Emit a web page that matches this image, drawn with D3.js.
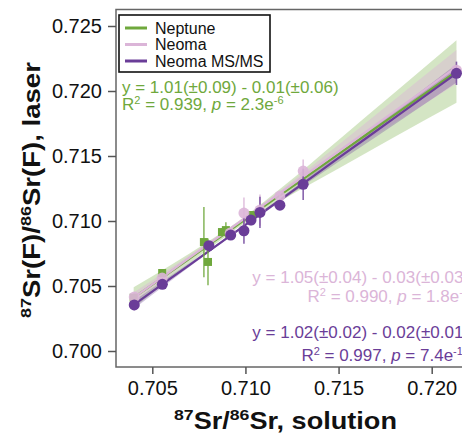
<!DOCTYPE html>
<html>
<head>
<meta charset="utf-8">
<script src="https://cdnjs.cloudflare.com/ajax/libs/d3/7.8.5/d3.min.js"></script>
<style>
  body { margin: 0; background: #fff; }
  text { font-family: "Liberation Sans", Arial, Helvetica, sans-serif; fill: #111; }
</style>
</head>
<body>
<div id="chart"></div>
<script>
var width = 462,
    height = 433;

// series: x = solution 87Sr/86Sr, y = laser 87Sr(F)/86Sr(F), err = half error bar
var seriesNames = ["Neptune", "Neoma", "Neoma MS/MS"];
var seriesColors = ["#6fa83c", "#dbb5d8", "#6a3d98"];

var neptuneX   = [0.7040, 0.70553, 0.70777, 0.70799, 0.70874, 0.70895, 0.71035, 0.7213];
var neptuneY   = [0.7041, 0.70600, 0.70838, 0.70685, 0.70915, 0.70930, 0.71046, 0.7214];
var neptuneErr = [0.0003, 0.0002, 0.0027, 0.0018, 0.0003, 0.0006, 0.0003, 0.0004];

var neomaX   = [0.70403, 0.70553, 0.70918, 0.70992, 0.71078, 0.71185, 0.71310, 0.72133];
var neomaY   = [0.70415, 0.70561, 0.70907, 0.71061, 0.71084, 0.71192, 0.71384, 0.72160];
var neomaErr = [0.0003, 0.0003, 0.0003, 0.0012, 0.0012, 0.0003, 0.0009, 0.0004];

var msmsX   = [0.70403, 0.70554, 0.70804, 0.70921, 0.70992, 0.71030, 0.71078, 0.71185, 0.71310, 0.72133];
var msmsY   = [0.70354, 0.70513, 0.70810, 0.70892, 0.70925, 0.71007, 0.71066, 0.71122, 0.71282, 0.72136];
var msmsErr = [0.0004, 0.0002, 0.0003, 0.0002, 0.0010, 0.0004, 0.0012, 0.0002, 0.0012, 0.0009];

// regression fits and confidence half-widths, read at these x positions
var fitX = [0.7040, 0.7060, 0.7080, 0.7100, 0.7120, 0.7150, 0.7180, 0.72133];
var neptuneFit = [0.7041, 0.70611, 0.70812, 0.71012, 0.71213, 0.71514, 0.71816, 0.7215];
var neptuneCI  = [0.0008, 0.0005, 0.0003, 0.00025, 0.0005, 0.0011, 0.0017, 0.0024];
var neomaFit = [0.70410, 0.70615, 0.70820, 0.71024, 0.71229, 0.71536, 0.71843, 0.72185];
var neomaCI  = [0.0004, 0.00025, 0.00015, 0.00012, 0.0002, 0.0005, 0.0009, 0.0013];
var msmsFit = [0.70354, 0.70560, 0.70765, 0.70971, 0.71176, 0.71485, 0.71793, 0.72136];
var msmsCI  = [0.0003, 0.0002, 0.0001, 0.0001, 0.00015, 0.0003, 0.0005, 0.0007];

var xTicks = [0.705, 0.710, 0.715, 0.720];
var yTicks = [0.700, 0.705, 0.710, 0.715, 0.720, 0.725];

var eqText = ["y = 1.01(\u00b10.09) - 0.01(\u00b10.06)", "y = 1.05(\u00b10.04) - 0.03(\u00b10.03)", "y = 1.02(\u00b10.02) - 0.02(\u00b10.01)"];
var r2Text = ["0.939", "0.990", "0.997"];
var pMant = ["2.3", "1.8", "7.4"];
var pExp = ["-6", "-8", "-12"];

var plot = { left: 116, right: 480, top: 9.5, bottom: 367 };

var svg = d3.select("#chart")
    .append("svg")
    .attr("width", width)
    .attr("height", height);

var x = d3.scaleLinear().domain([0.705, 0.720]).range([152.3, 431.7]);
var y = d3.scaleLinear().domain([0.700, 0.725]).range([351, 26]);

function rows(xs, ys, es) {
    return xs.map(function(d, i) { return { x: d, y: ys[i], e: es[i] }; });
}
function bandRows(fit, ci) {
    return fitX.map(function(d, i) { return { x: d, c: fit[i], lo: fit[i] - ci[i], hi: fit[i] + ci[i] }; });
}

var bands = [bandRows(neptuneFit, neptuneCI), bandRows(neomaFit, neomaCI), bandRows(msmsFit, msmsCI)];
var bandOpacity = [0.3, 0.45, 0.3];

var area = d3.area()
    .x(function(d) { return x(d.x); })
    .y0(function(d) { return y(d.lo); })
    .y1(function(d) { return y(d.hi); })
    .curve(d3.curveMonotoneX);

var line = d3.line()
    .x(function(d) { return x(d.x); })
    .y(function(d) { return y(d.c); })
    .curve(d3.curveMonotoneX);

// bands then fit lines
bands.forEach(function(b, i) {
    svg.append("path").attr("d", area(b))
        .attr("fill", seriesColors[i]).attr("fill-opacity", bandOpacity[i]);
});
bands.forEach(function(b, i) {
    svg.append("path").attr("d", line(b))
        .attr("fill", "none").attr("stroke", seriesColors[i]).attr("stroke-width", 2.2);
});

// error bars + points
var pts = [rows(neptuneX, neptuneY, neptuneErr), rows(neomaX, neomaY, neomaErr), rows(msmsX, msmsY, msmsErr)];

pts.forEach(function(p, i) {
    svg.selectAll(".err" + i)
        .data(p).enter().append("line")
        .attr("x1", function(d) { return x(d.x); })
        .attr("x2", function(d) { return x(d.x); })
        .attr("y1", function(d) { return y(d.y - d.e); })
        .attr("y2", function(d) { return y(d.y + d.e); })
        .attr("stroke", seriesColors[i])
        .attr("stroke-width", 1.6)
        .attr("stroke-opacity", 0.8);
});

svg.selectAll(".nep")
    .data(pts[0]).enter().append("rect")
    .attr("x", function(d) { return x(d.x) - 4; })
    .attr("y", function(d) { return y(d.y) - 4; })
    .attr("width", 8).attr("height", 8)
    .attr("fill", seriesColors[0]);

svg.selectAll(".neo")
    .data(pts[1]).enter().append("circle")
    .attr("cx", function(d) { return x(d.x); })
    .attr("cy", function(d) { return y(d.y); })
    .attr("r", 5.5)
    .attr("fill", seriesColors[1]).attr("fill-opacity", 0.9);

svg.selectAll(".ms")
    .data(pts[2]).enter().append("circle")
    .attr("cx", function(d) { return x(d.x); })
    .attr("cy", function(d) { return y(d.y); })
    .attr("r", 5.5)
    .attr("fill", seriesColors[2]);

// frame
svg.append("rect")
    .attr("x", plot.left).attr("y", plot.top)
    .attr("width", plot.right - plot.left).attr("height", plot.bottom - plot.top)
    .attr("fill", "none").attr("stroke", "#666").attr("stroke-width", 1.5);

// axes
var yAxis = svg.append("g")
    .attr("transform", "translate(" + plot.left + ",0)")
    .call(d3.axisLeft(y).tickValues(yTicks).tickFormat(d3.format(".3f")).tickSize(8).tickPadding(6));
var xAxis = svg.append("g")
    .attr("transform", "translate(0," + plot.bottom + ")")
    .call(d3.axisBottom(x).tickValues(xTicks).tickFormat(d3.format(".3f")).tickSize(7).tickPadding(7));

[yAxis, xAxis].forEach(function(a) {
    a.select(".domain").remove();
    a.selectAll(".tick line").attr("stroke", "#555").attr("stroke-width", 1.5);
    a.selectAll(".tick text").style("font-size", "20px").attr("fill", "#111")
        .style("font-family", "'Liberation Sans', Arial, Helvetica, sans-serif");
});

// axis titles
function ratioTitle(g, parts) {
    var t = g.append("text").style("font-weight", "bold").style("font-size", "23px");
    parts.forEach(function(p) {
        t.append("tspan").text(p[0])
            .style("font-size", p[1] ? "15px" : "23px")
            .attr("dy", p[1] ? -9 : (p[2] ? 9 : 0));
    });
    return t;
}

var xt = svg.append("g");
var xtt = ratioTitle(xt, [["87", 1], ["Sr/", 0, 1], ["86", 1], ["Sr, solution", 0, 1]]);
var xw = xtt.node().getComputedTextLength();
xt.attr("transform", "translate(174,429) scale(" + (223 / xw) + ",1)");

var yt = svg.append("g");
var ytt = ratioTitle(yt, [["87", 1], ["Sr(F)/", 0, 1], ["86", 1], ["Sr(F), laser", 0, 1]]);
var yw = ytt.node().getComputedTextLength();
yt.attr("transform", "translate(40,318) rotate(-90) scale(" + (256 / yw) + ",1)");

// legend
var legend = svg.append("g").attr("class", "legend");
legend.append("rect")
    .attr("x", 119).attr("y", 15).attr("width", 151).attr("height", 57)
    .attr("fill", "#fff").attr("stroke", "#111").attr("stroke-width", 1.6);

var items = legend.selectAll(".item")
    .data(seriesNames).enter().append("g")
    .attr("transform", function(d, i) { return "translate(0," + (28 + i * 16.5) + ")"; });
items.append("line")
    .attr("x1", 125).attr("x2", 147)
    .attr("stroke", function(d, i) { return seriesColors[i]; })
    .attr("stroke-width", 3);
items.append("text")
    .attr("x", 155).attr("y", 5.5)
    .style("font-size", "16px")
    .text(function(d) { return d; });

// regression labels
var eqPos = [
    { x: 122, y1: 93, y2: 110, anchor: "start" },
    { x: 469, y1: 283, y2: 302, anchor: "end" },
    { x: 469, y1: 338, y2: 361, anchor: "end" }
];

eqPos.forEach(function(pos, i) {
    var c = seriesColors[i];
    svg.append("text")
        .attr("x", pos.x).attr("y", pos.y1)
        .attr("text-anchor", pos.anchor)
        .style("font-size", "17px").style("fill", c)
        .text(eqText[i]);

    var t = svg.append("text")
        .attr("x", pos.x).attr("y", pos.y2)
        .attr("text-anchor", pos.anchor)
        .style("font-size", "17px").style("fill", c);
    t.append("tspan").text("R");
    t.append("tspan").text("2").style("font-size", "11px").attr("dy", -6);
    t.append("tspan").text(" = " + r2Text[i] + ", ").attr("dy", 6);
    t.append("tspan").text("p").style("font-style", "italic");
    t.append("tspan").text(" = " + pMant[i] + "e");
    t.append("tspan").text(pExp[i]).style("font-size", "11px").attr("dy", -6);
});
</script>
</body>
</html>
